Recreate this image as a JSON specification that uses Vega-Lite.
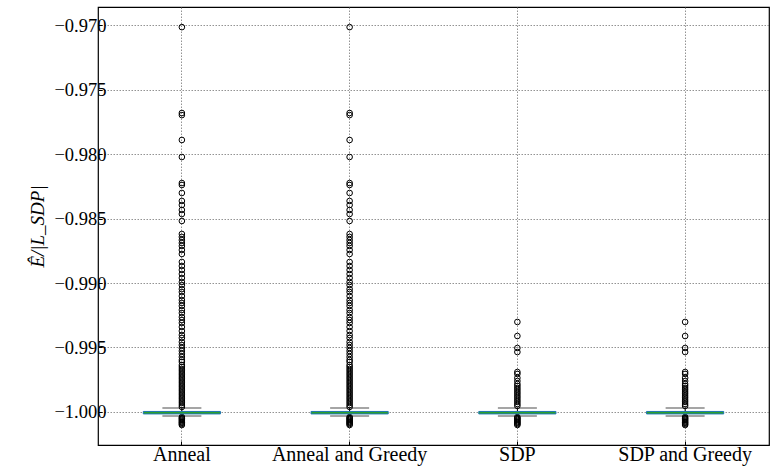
{
  "$schema": "https://vega.github.io/schema/vega-lite/v6.json",
  "width": 671,
  "height": 438,
  "autosize": {"type": "none"},
  "padding": {"left": 98, "top": 7, "right": 2, "bottom": 21},
  "background": "white",
  "config": {
    "view": {"stroke": "black", "strokeWidth": 1.2},
    "font": "Liberation Serif",
    "axis": {
      "labelFont": "Liberation Serif",
      "titleFont": "Liberation Serif",
      "labelColor": "black",
      "titleColor": "black",
      "labelFontSize": 18,
      "domain": false,
      "tickColor": "black",
      "tickSize": -4,
      "gridColor": "#777",
      "gridDash": [1.5, 1.5],
      "gridWidth": 0.8,
      "gridOpacity": 1
    }
  },
  "datasets": {
    "stats": [
      {"cat": "Anneal", "q1": -1.00015, "q3": -0.99996, "med": -1.00005, "lo": -1.00031, "hi": -0.99969},
      {"cat": "Anneal and Greedy", "q1": -1.00015, "q3": -0.99996, "med": -1.00005, "lo": -1.00031, "hi": -0.99969},
      {"cat": "SDP", "q1": -1.00015, "q3": -0.99996, "med": -1.00005, "lo": -1.00031, "hi": -0.99969},
      {"cat": "SDP and Greedy", "q1": -1.00015, "q3": -0.99996, "med": -1.00005, "lo": -1.00031, "hi": -0.99969}
    ],
    "out": [
      {"cat": "Anneal", "v": -0.97016}, {"cat": "Anneal", "v": -0.97682}, {"cat": "Anneal", "v": -0.97698}, {"cat": "Anneal", "v": -0.97891}, {"cat": "Anneal", "v": -0.98023}, {"cat": "Anneal", "v": -0.98225}, {"cat": "Anneal", "v": -0.9824}, {"cat": "Anneal", "v": -0.98302}, {"cat": "Anneal", "v": -0.98364}, {"cat": "Anneal", "v": -0.98395}, {"cat": "Anneal", "v": -0.98434}, {"cat": "Anneal", "v": -0.98465}, {"cat": "Anneal", "v": -0.98519}, {"cat": "Anneal", "v": -0.9862}, {"cat": "Anneal", "v": -0.98643}, {"cat": "Anneal", "v": -0.98667}, {"cat": "Anneal", "v": -0.9869}, {"cat": "Anneal", "v": -0.98713}, {"cat": "Anneal", "v": -0.98744}, {"cat": "Anneal", "v": -0.98775}, {"cat": "Anneal", "v": -0.98837}, {"cat": "Anneal", "v": -0.98868}, {"cat": "Anneal", "v": -0.98899}, {"cat": "Anneal", "v": -0.9893}, {"cat": "Anneal", "v": -0.98961}, {"cat": "Anneal", "v": -0.98992}, {"cat": "Anneal", "v": -0.99016}, {"cat": "Anneal", "v": -0.99047}, {"cat": "Anneal", "v": -0.9907}, {"cat": "Anneal", "v": -0.99101}, {"cat": "Anneal", "v": -0.99132}, {"cat": "Anneal", "v": -0.99155}, {"cat": "Anneal", "v": -0.99178}, {"cat": "Anneal", "v": -0.99209}, {"cat": "Anneal", "v": -0.99233}, {"cat": "Anneal", "v": -0.99264}, {"cat": "Anneal", "v": -0.99287}, {"cat": "Anneal", "v": -0.9931}, {"cat": "Anneal", "v": -0.99341}, {"cat": "Anneal", "v": -0.99372}, {"cat": "Anneal", "v": -0.99403}, {"cat": "Anneal", "v": -0.99426}, {"cat": "Anneal", "v": -0.99457}, {"cat": "Anneal", "v": -0.99481}, {"cat": "Anneal", "v": -0.99504}, {"cat": "Anneal", "v": -0.99527}, {"cat": "Anneal", "v": -0.9955}, {"cat": "Anneal", "v": -0.99574}, {"cat": "Anneal", "v": -0.99597}, {"cat": "Anneal", "v": -0.99612}, {"cat": "Anneal", "v": -0.99636}, {"cat": "Anneal", "v": -0.99651}, {"cat": "Anneal", "v": -0.99667}, {"cat": "Anneal", "v": -0.99682}, {"cat": "Anneal", "v": -0.99698}, {"cat": "Anneal", "v": -0.99713}, {"cat": "Anneal", "v": -0.99729}, {"cat": "Anneal", "v": -0.99744}, {"cat": "Anneal", "v": -0.9976}, {"cat": "Anneal", "v": -0.99775}, {"cat": "Anneal", "v": -0.99791}, {"cat": "Anneal", "v": -0.99806}, {"cat": "Anneal", "v": -0.99822}, {"cat": "Anneal", "v": -0.99837}, {"cat": "Anneal", "v": -0.99853}, {"cat": "Anneal", "v": -0.99868}, {"cat": "Anneal", "v": -0.99884}, {"cat": "Anneal", "v": -0.99899}, {"cat": "Anneal", "v": -0.99915}, {"cat": "Anneal", "v": -0.9993}, {"cat": "Anneal", "v": -0.99946}, {"cat": "Anneal", "v": -0.99961}, {"cat": "Anneal", "v": -1.00039}, {"cat": "Anneal", "v": -1.00047}, {"cat": "Anneal", "v": -1.00054}, {"cat": "Anneal", "v": -1.00062}, {"cat": "Anneal", "v": -1.0007}, {"cat": "Anneal", "v": -1.00078}, {"cat": "Anneal", "v": -1.00085}, {"cat": "Anneal", "v": -1.00093}, {"cat": "Anneal", "v": -1.00101},
      {"cat": "Anneal and Greedy", "v": -0.97016}, {"cat": "Anneal and Greedy", "v": -0.97682}, {"cat": "Anneal and Greedy", "v": -0.97698}, {"cat": "Anneal and Greedy", "v": -0.97891}, {"cat": "Anneal and Greedy", "v": -0.98023}, {"cat": "Anneal and Greedy", "v": -0.98225}, {"cat": "Anneal and Greedy", "v": -0.9824}, {"cat": "Anneal and Greedy", "v": -0.98302}, {"cat": "Anneal and Greedy", "v": -0.98364}, {"cat": "Anneal and Greedy", "v": -0.98395}, {"cat": "Anneal and Greedy", "v": -0.98434}, {"cat": "Anneal and Greedy", "v": -0.98465}, {"cat": "Anneal and Greedy", "v": -0.98519}, {"cat": "Anneal and Greedy", "v": -0.9862}, {"cat": "Anneal and Greedy", "v": -0.98643}, {"cat": "Anneal and Greedy", "v": -0.98667}, {"cat": "Anneal and Greedy", "v": -0.9869}, {"cat": "Anneal and Greedy", "v": -0.98713}, {"cat": "Anneal and Greedy", "v": -0.98744}, {"cat": "Anneal and Greedy", "v": -0.98775}, {"cat": "Anneal and Greedy", "v": -0.98837}, {"cat": "Anneal and Greedy", "v": -0.98868}, {"cat": "Anneal and Greedy", "v": -0.98899}, {"cat": "Anneal and Greedy", "v": -0.9893}, {"cat": "Anneal and Greedy", "v": -0.98961}, {"cat": "Anneal and Greedy", "v": -0.98992}, {"cat": "Anneal and Greedy", "v": -0.99016}, {"cat": "Anneal and Greedy", "v": -0.99047}, {"cat": "Anneal and Greedy", "v": -0.9907}, {"cat": "Anneal and Greedy", "v": -0.99101}, {"cat": "Anneal and Greedy", "v": -0.99132}, {"cat": "Anneal and Greedy", "v": -0.99155}, {"cat": "Anneal and Greedy", "v": -0.99178}, {"cat": "Anneal and Greedy", "v": -0.99209}, {"cat": "Anneal and Greedy", "v": -0.99233}, {"cat": "Anneal and Greedy", "v": -0.99264}, {"cat": "Anneal and Greedy", "v": -0.99287}, {"cat": "Anneal and Greedy", "v": -0.9931}, {"cat": "Anneal and Greedy", "v": -0.99341}, {"cat": "Anneal and Greedy", "v": -0.99372}, {"cat": "Anneal and Greedy", "v": -0.99403}, {"cat": "Anneal and Greedy", "v": -0.99426}, {"cat": "Anneal and Greedy", "v": -0.99457}, {"cat": "Anneal and Greedy", "v": -0.99481}, {"cat": "Anneal and Greedy", "v": -0.99504}, {"cat": "Anneal and Greedy", "v": -0.99527}, {"cat": "Anneal and Greedy", "v": -0.9955}, {"cat": "Anneal and Greedy", "v": -0.99574}, {"cat": "Anneal and Greedy", "v": -0.99597}, {"cat": "Anneal and Greedy", "v": -0.99612}, {"cat": "Anneal and Greedy", "v": -0.99636}, {"cat": "Anneal and Greedy", "v": -0.99651}, {"cat": "Anneal and Greedy", "v": -0.99667}, {"cat": "Anneal and Greedy", "v": -0.99682}, {"cat": "Anneal and Greedy", "v": -0.99698}, {"cat": "Anneal and Greedy", "v": -0.99713}, {"cat": "Anneal and Greedy", "v": -0.99729}, {"cat": "Anneal and Greedy", "v": -0.99744}, {"cat": "Anneal and Greedy", "v": -0.9976}, {"cat": "Anneal and Greedy", "v": -0.99775}, {"cat": "Anneal and Greedy", "v": -0.99791}, {"cat": "Anneal and Greedy", "v": -0.99806}, {"cat": "Anneal and Greedy", "v": -0.99822}, {"cat": "Anneal and Greedy", "v": -0.99837}, {"cat": "Anneal and Greedy", "v": -0.99853}, {"cat": "Anneal and Greedy", "v": -0.99868}, {"cat": "Anneal and Greedy", "v": -0.99884}, {"cat": "Anneal and Greedy", "v": -0.99899}, {"cat": "Anneal and Greedy", "v": -0.99915}, {"cat": "Anneal and Greedy", "v": -0.9993}, {"cat": "Anneal and Greedy", "v": -0.99946}, {"cat": "Anneal and Greedy", "v": -0.99961}, {"cat": "Anneal and Greedy", "v": -1.00039}, {"cat": "Anneal and Greedy", "v": -1.00047}, {"cat": "Anneal and Greedy", "v": -1.00054}, {"cat": "Anneal and Greedy", "v": -1.00062}, {"cat": "Anneal and Greedy", "v": -1.0007}, {"cat": "Anneal and Greedy", "v": -1.00078}, {"cat": "Anneal and Greedy", "v": -1.00085}, {"cat": "Anneal and Greedy", "v": -1.00093}, {"cat": "Anneal and Greedy", "v": -1.00101},
      {"cat": "SDP", "v": -0.99302}, {"cat": "SDP", "v": -0.99411}, {"cat": "SDP", "v": -0.99504}, {"cat": "SDP", "v": -0.99535}, {"cat": "SDP", "v": -0.9969}, {"cat": "SDP", "v": -0.99705}, {"cat": "SDP", "v": -0.99736}, {"cat": "SDP", "v": -0.9976}, {"cat": "SDP", "v": -0.99783}, {"cat": "SDP", "v": -0.99798}, {"cat": "SDP", "v": -0.99814}, {"cat": "SDP", "v": -0.99829}, {"cat": "SDP", "v": -0.99845}, {"cat": "SDP", "v": -0.9986}, {"cat": "SDP", "v": -0.99876}, {"cat": "SDP", "v": -0.99891}, {"cat": "SDP", "v": -0.99907}, {"cat": "SDP", "v": -0.99922}, {"cat": "SDP", "v": -0.99938}, {"cat": "SDP", "v": -0.99953}, {"cat": "SDP", "v": -1.00039}, {"cat": "SDP", "v": -1.00047}, {"cat": "SDP", "v": -1.00054}, {"cat": "SDP", "v": -1.00062}, {"cat": "SDP", "v": -1.0007}, {"cat": "SDP", "v": -1.00078}, {"cat": "SDP", "v": -1.00085}, {"cat": "SDP", "v": -1.00093}, {"cat": "SDP", "v": -1.00101},
      {"cat": "SDP and Greedy", "v": -0.99302}, {"cat": "SDP and Greedy", "v": -0.99411}, {"cat": "SDP and Greedy", "v": -0.99504}, {"cat": "SDP and Greedy", "v": -0.99535}, {"cat": "SDP and Greedy", "v": -0.9969}, {"cat": "SDP and Greedy", "v": -0.99705}, {"cat": "SDP and Greedy", "v": -0.99736}, {"cat": "SDP and Greedy", "v": -0.9976}, {"cat": "SDP and Greedy", "v": -0.99783}, {"cat": "SDP and Greedy", "v": -0.99798}, {"cat": "SDP and Greedy", "v": -0.99814}, {"cat": "SDP and Greedy", "v": -0.99829}, {"cat": "SDP and Greedy", "v": -0.99845}, {"cat": "SDP and Greedy", "v": -0.9986}, {"cat": "SDP and Greedy", "v": -0.99876}, {"cat": "SDP and Greedy", "v": -0.99891}, {"cat": "SDP and Greedy", "v": -0.99907}, {"cat": "SDP and Greedy", "v": -0.99922}, {"cat": "SDP and Greedy", "v": -0.99938}, {"cat": "SDP and Greedy", "v": -0.99953}, {"cat": "SDP and Greedy", "v": -1.00039}, {"cat": "SDP and Greedy", "v": -1.00047}, {"cat": "SDP and Greedy", "v": -1.00054}, {"cat": "SDP and Greedy", "v": -1.00062}, {"cat": "SDP and Greedy", "v": -1.0007}, {"cat": "SDP and Greedy", "v": -1.00078}, {"cat": "SDP and Greedy", "v": -1.00085}, {"cat": "SDP and Greedy", "v": -1.00093}, {"cat": "SDP and Greedy", "v": -1.00101}
    ]
  },
  "encoding": {
    "x": {
      "field": "cat", "type": "nominal",
      "sort": ["Anneal", "Anneal and Greedy", "SDP", "SDP and Greedy"],
      "scale": {"paddingInner": 0, "paddingOuter": 0},
      "axis": {"title": null, "labelAngle": 0, "grid": true, "bandPosition": 0.5, "labelPadding": 3, "labelFontSize": 20}
    }
  },
  "layer": [
    {
      "data": {"name": "stats"},
      "mark": {"type": "rule", "color": "black", "strokeWidth": 1},
      "encoding": {
        "y": {
          "field": "lo", "type": "quantitative",
          "scale": {"domain": [-1.00256, -0.9686], "nice": false, "zero": false},
          "axis": {"labelExpr": "'\u2212' + format(-datum.value, '.3f')", "values": [-1.0, -0.995, -0.99, -0.985, -0.98, -0.975, -0.97], "title": "Ê/|L_SDP|", "titleFontStyle": "italic", "titleFontWeight": "normal", "titleFontSize": 19, "titlePadding": 6, "labelPadding": -4, "labelFontSize": 18.5}
        },
        "y2": {"field": "hi"}
      }
    },
    {
      "data": {"name": "stats"},
      "mark": {"type": "tick", "color": "black", "size": 39, "thickness": 1.2, "orient": "horizontal"},
      "encoding": {"y": {"field": "lo", "type": "quantitative"}}
    },
    {
      "data": {"name": "stats"},
      "mark": {"type": "tick", "color": "black", "size": 39, "thickness": 1.2, "orient": "horizontal"},
      "encoding": {"y": {"field": "hi", "type": "quantitative"}}
    },
    {
      "data": {"name": "out"},
      "mark": {"type": "point", "shape": "circle", "filled": false, "stroke": "black", "strokeWidth": 1, "size": 32, "opacity": 1},
      "encoding": {"y": {"field": "v", "type": "quantitative"}}
    },
    {
      "data": {"name": "stats"},
      "mark": {"type": "bar", "fill": "#2ca02c", "stroke": "#1f77b4", "strokeWidth": 1, "width": {"band": 0.46}},
      "encoding": {"y": {"field": "q1", "type": "quantitative"}, "y2": {"field": "q3"}}
    }
  ]
}
